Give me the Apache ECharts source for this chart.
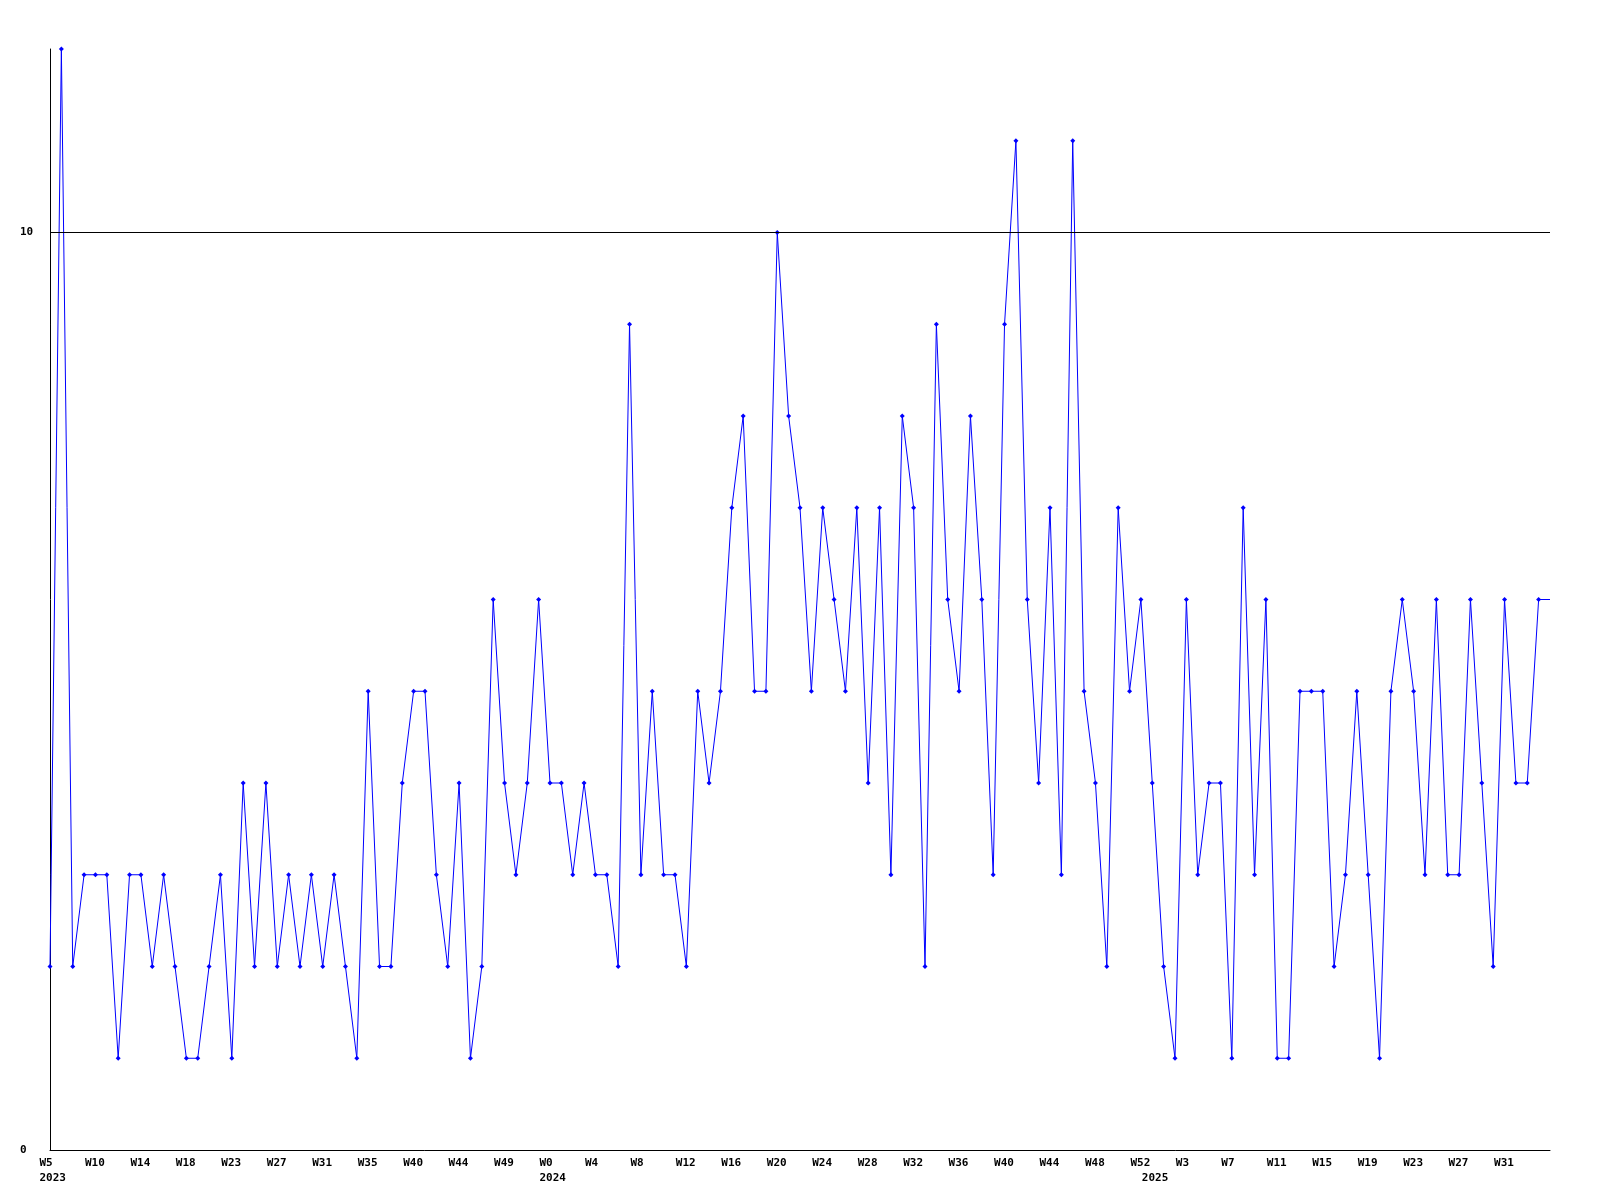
<!DOCTYPE html>
<html><head><meta charset="utf-8">
<script src="https://cdn.jsdelivr.net/npm/echarts@6/dist/echarts.min.js"></script>
<style>html,body{margin:0;padding:0;background:#fff}#c{width:1600px;height:1200px}</style>
</head><body><div id="c"></div>
<script>
// weekly values, one per point
const values = [
  2,12,2,3,3,3,1,3,3,2,3,2,1,1,2,3,1,4,2,4,2,3,2,
  3,2,3,2,1,5,2,2,4,5,5,3,2,4,1,2,6,4,3,4,6,4,4,
  3,4,3,3,2,9,3,5,3,3,2,5,4,5,7,8,5,5,10,8,7,5,7,
  6,5,7,4,7,3,8,7,2,9,6,5,8,6,3,9,11,6,4,7,3,11,5,
  4,2,7,5,6,4,2,1,6,3,4,4,1,7,3,6,1,1,5,5,5,2,3,
  5,3,1,5,6,5,3,6,3,3,6,4,2,6,4,4,6,
  6
];
// x tick labels, one every 4 points
const weekLabels = ['W5','W10','W14','W18','W23','W27','W31','W35','W40','W44','W49',
  'W0','W4','W8','W12','W16','W20','W24','W28','W32','W36','W40','W44','W48','W52',
  'W3','W7','W11','W15','W19','W23','W27','W31'];
const labelStep = 4;
const yearLabels = ['2023','2024','2025'];
const yearIndex = [0,44,97];
const yMin = 0, yMax = 12, yStep = 10;
const refLine = 10;

const font = 'DejaVu Sans Mono';
const lastIdx = values.length - 1;
const seriesData = values.map((v,i) => i === lastIdx ? {value:[i,v], symbol:'none'} : [i,v]);

function xLabel(v){
  let s = '';
  if (v % labelStep === 0 && weekLabels[v/labelStep] !== undefined) s = weekLabels[v/labelStep];
  const yi = yearIndex.indexOf(v);
  if (yi >= 0) s += '\n' + yearLabels[yi];
  return s;
}

const chart = echarts.init(document.getElementById('c'), null, {renderer:'canvas'});
chart.setOption({
  animation:false,
  backgroundColor:'#ffffff',
  grid:[
    {left:50, top:49, width:1500, height:1101},
    {left:39.5, top:49, width:1500, height:1101}
  ],
  xAxis:[
    {type:'value', gridIndex:0, min:0, max:lastIdx, interval:1,
     axisLine:{show:true, lineStyle:{color:'#000', width:1}},
     axisTick:{show:false}, axisLabel:{show:false}, splitLine:{show:false}},
    {type:'value', gridIndex:1, min:0, max:lastIdx, interval:1,
     axisLine:{show:false}, axisTick:{show:false}, splitLine:{show:false},
     axisLabel:{show:true, align:'left', margin:6, lineHeight:15,
       fontFamily:font, fontWeight:'bold', fontSize:11, color:'#000',
       formatter:xLabel}}
  ],
  yAxis:[
    {type:'value', gridIndex:0, min:yMin, max:yMax, interval:yStep,
     axisLine:{show:true, lineStyle:{color:'#000', width:1}},
     axisTick:{show:false}, splitLine:{show:false},
     axisLabel:{show:true, align:'left', margin:30, fontFamily:font, fontWeight:'bold',
       fontSize:11, color:'#000', formatter:v => (v === yMax ? '' : String(v))}},
    {type:'value', gridIndex:1, min:0, max:1, show:false}
  ],
  series:[{
    type:'line', xAxisIndex:0, yAxisIndex:0,
    data:seriesData,
    symbol:'diamond', symbolSize:5, showAllSymbol:true,
    lineStyle:{color:'#0000ff', width:1},
    itemStyle:{color:'#0000ff'},
    clip:false,
    markLine:{silent:true, symbol:['none','none'], label:{show:false},
      lineStyle:{color:'#000', width:1, type:'solid'},
      data:[{yAxis:refLine}]}
  }]
});
</script></body></html>
